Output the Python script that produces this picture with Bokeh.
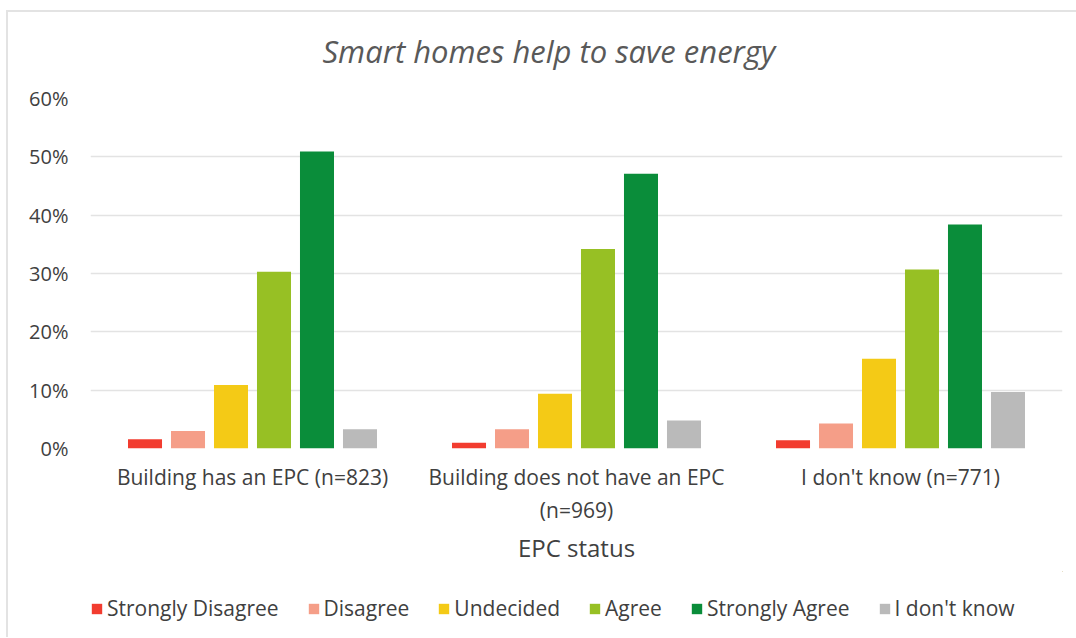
from bokeh.plotting import figure
from bokeh.layouts import column
from bokeh.models import (ColumnDataSource, FactorRange, Range1d, FixedTicker,
                          PrintfTickFormatter, Legend, LegendItem, Title)
from bokeh.transform import dodge
from bokeh.embed import file_html
from bokeh.resources import INLINE

groups = ["Building has an EPC (n=823)",
          "Building does not have an EPC\n(n=969)",
          "I don't know (n=771)"]
responses = ["Strongly Disagree", "Disagree", "Undecided", "Agree",
             "Strongly Agree", "I don't know"]
strongly_disagree = [1.6, 1.0, 1.4]
disagree = [3.0, 3.3, 4.3]
undecided = [10.9, 9.4, 15.4]
agree = [30.3, 34.2, 30.7]
strongly_agree = [50.9, 47.1, 38.4]
dont_know = [3.3, 4.8, 9.7]
y_ticks = [0, 10, 20, 30, 40, 50, 60]

colors = ["#F23C2F", "#F59E88", "#F4CA16", "#97C024", "#0A8D3A", "#BABABA"]
series = [strongly_disagree, disagree, undecided, agree, strongly_agree, dont_know]
keys = ["sd", "d", "u", "a", "sa", "dk"]

data = {"group": groups}
for k, s in zip(keys, series):
    data[k] = s
src = ColumnDataSource(data)

FONT = "Open Sans"
TXT = "#404040"
LINE = "#E3E3E3"

p = figure(x_range=FactorRange(*groups), y_range=Range1d(0, 60),
           frame_width=972, frame_height=350,
           output_backend="svg", toolbar_location=None,
           min_border_left=90, min_border_right=14, min_border_top=97,
           min_border_bottom=123)
p.outline_line_color = None
p.background_fill_color = "white"
p.border_fill_alpha = 0
p.styles = {
    "background": (f"linear-gradient({LINE},{LINE}) 6px 10px / 2px 100% no-repeat, "
                   f"linear-gradient({LINE},{LINE}) 6px 10px / 100% 2px no-repeat, white")
}

title = Title(text="Smart homes help to save energy", align="left",
              text_font=FONT, text_font_style="italic", text_font_size="31px",
              text_color="#595959", standoff=54, offset=232)
p.add_layout(title, "above")

pitch = 0.1327
bw = 0.105
for i, (k, c) in enumerate(zip(keys, colors)):
    off = (i - 2.5) * pitch
    p.vbar(x=dodge("group", off, range=p.x_range), top=k, width=bw,
           source=src, fill_color=c, line_color=None)

p.xgrid.grid_line_color = None
p.ygrid.grid_line_color = LINE
p.ygrid.grid_line_width = 1.5
p.yaxis.ticker = FixedTicker(ticks=y_ticks)
p.yaxis.formatter = PrintfTickFormatter(format="%d%%")
for ax in (p.xaxis, p.yaxis):
    ax.axis_line_color = None
    ax.major_tick_line_color = None
    ax.minor_tick_line_color = None
    ax.major_tick_out = 0
    ax.major_tick_in = 0
    ax.major_label_text_font = FONT
    ax.major_label_text_color = TXT
p.yaxis.major_label_text_font_size = "20px"
p.xaxis.major_label_text_font_size = "21px"
p.yaxis.major_label_standoff = 22
p.xaxis.major_label_standoff = 14
p.xaxis.axis_label = "EPC status"
p.xaxis.axis_label_text_font = FONT
p.xaxis.axis_label_text_font_style = "normal"
p.xaxis.axis_label_text_font_size = "24px"
p.xaxis.axis_label_text_color = TXT
p.xaxis.axis_label_standoff = 4

# legend strip (frame aligned with the chart above)
lg = figure(width=1076, height=66, x_range=Range1d(0, 1), y_range=Range1d(0, 1),
            output_backend="svg", toolbar_location=None,
            min_border_left=0, min_border_right=0, min_border_top=0,
            min_border_bottom=0)
lg.axis.visible = False
lg.grid.visible = False
lg.outline_line_color = None
lg.background_fill_alpha = 0
lg.border_fill_alpha = 0
lg.styles = {
    "background": f"linear-gradient({LINE},{LINE}) 6px 0px / 2px 100% no-repeat, white"
}
items = []
for c, name in zip(colors, responses):
    # off-range placeholder glyph, used only for the legend swatch
    r = lg.vbar(x=[5], top=[5], bottom=[4], width=0.1, fill_color=c, line_color=None)
    items.append(LegendItem(label=name, renderers=[r]))

legend = Legend(items=items, orientation="horizontal", location=(0, 15),
                border_line_color=None, background_fill_alpha=0,
                glyph_width=13, glyph_height=13, label_standoff=4, spacing=28,
                padding=0, margin=0,
                label_text_font=FONT, label_text_font_size="21px",
                label_text_color=TXT)
lg.add_layout(legend, "center")

layout = column(p, lg, spacing=0)
open("out.html", "w").write(file_html(layout, INLINE))
